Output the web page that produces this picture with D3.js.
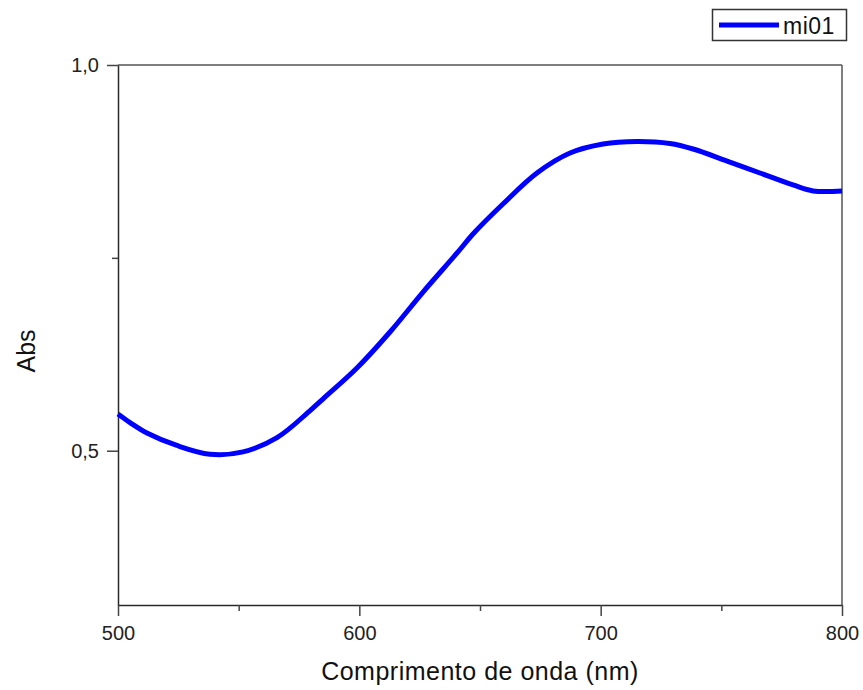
<!DOCTYPE html>
<html>
<head>
<meta charset="utf-8">
<script src="https://cdn.jsdelivr.net/npm/d3@7"></script>
<style>
  html, body { margin: 0; padding: 0; background: #fff; }
  svg { display: block; font-family: "Liberation Sans", Arial, sans-serif; }
</style>
</head>
<body>
<svg id="chart" width="863" height="690"></svg>
<script>
// ---- data ----
const wavelength = [500, 505, 512, 524.4, 538.1, 551.8, 565.9, 579.6, 584.9, 599.0, 612.7, 626.4, 640.5, 647.1, 659.5, 673.6, 687.3, 701.0, 715.1, 728.7, 738.3, 752.4, 766.0, 779.7, 788.0, 800];
const absValues  = [0.5476, 0.5365, 0.5230, 0.5068, 0.4955, 0.4985, 0.5170, 0.5520, 0.5670, 0.6072, 0.6539, 0.7057, 0.7563, 0.7809, 0.8198, 0.8600, 0.8859, 0.8976, 0.9008, 0.8982, 0.8911, 0.8755, 0.8600, 0.8445, 0.8367, 0.8367];
const seriesName = "mi01";
const xMajorTicks = [500, 600, 700, 800];
const xMinorTicks = [550, 650, 750];
const yMajorTicks = [0.5, 1.0];
const yMinorTicks = [0.75];
const yTickLabels = ["0,5", "1,0"];
const xTitle = "Comprimento de onda (nm)";
const yTitle = "Abs";

// ---- layout ----
const svg = d3.select("#chart");
const pLeft = 118, pRight = 842, pTop = 65, pBottom = 605;

const x = d3.scaleLinear().domain([500, 800]).range([pLeft, pRight]);
const y = d3.scaleLinear().domain([0.3, 1.0]).range([pBottom, pTop]);

const axisColor = "#2a2a2a";
const labelColor = "#222";
const fontFam = "'Liberation Sans', Arial, sans-serif";

// frame top & right
svg.append("line").attr("x1", pLeft).attr("x2", pRight).attr("y1", pTop).attr("y2", pTop)
  .attr("stroke", "#555").attr("stroke-width", 1.5);
svg.append("line").attr("x1", pRight).attr("x2", pRight).attr("y1", pTop).attr("y2", pBottom)
  .attr("stroke", "#555").attr("stroke-width", 1.5);

// x axis
const xAxis = d3.axisBottom(x).tickValues(xMajorTicks).tickSize(11).tickSizeOuter(0).tickPadding(10)
  .tickFormat(d3.format("d"));
const gx = svg.append("g").attr("transform", `translate(0,${pBottom})`).call(xAxis)
  .attr("font-size", 20).attr("font-family", fontFam);
gx.select(".domain").attr("stroke", axisColor).attr("stroke-width", 1.5);
gx.selectAll(".tick line").attr("stroke", "#444").attr("stroke-width", 1.5);
gx.selectAll(".tick text").attr("fill", labelColor);
const gxm = svg.append("g").attr("transform", `translate(0,${pBottom})`)
  .call(d3.axisBottom(x).tickValues(xMinorTicks).tickSize(6).tickFormat(""));
gxm.select(".domain").remove();
gxm.selectAll(".tick line").attr("stroke", "#444").attr("stroke-width", 1.5);

// y axis
const yAxis = d3.axisLeft(y).tickValues(yMajorTicks).tickSize(11).tickSizeOuter(0).tickPadding(8)
  .tickFormat((d, i) => yTickLabels[i]);
const gy = svg.append("g").attr("transform", `translate(${pLeft},0)`).call(yAxis)
  .attr("font-size", 20).attr("font-family", fontFam);
gy.select(".domain").attr("stroke", axisColor).attr("stroke-width", 1.5);
gy.selectAll(".tick line").attr("stroke", "#444").attr("stroke-width", 1.5);
gy.selectAll(".tick text").attr("fill", labelColor);
const gym = svg.append("g").attr("transform", `translate(${pLeft},0)`)
  .call(d3.axisLeft(y).tickValues(yMinorTicks).tickSize(6).tickFormat(""));
gym.select(".domain").remove();
gym.selectAll(".tick line").attr("stroke", "#444").attr("stroke-width", 1.5);

// curve
const data = wavelength.map((w, i) => ({ w, a: absValues[i] }));
const line = d3.line().x(d => x(d.w)).y(d => y(d.a)).curve(d3.curveCatmullRom.alpha(0.5));
svg.append("path").datum(data).attr("d", line)
  .attr("fill", "none").attr("stroke", "#0000ff").attr("stroke-width", 5)
  .attr("stroke-linejoin", "round");

// axis titles
svg.append("text").attr("x", (pLeft + pRight) / 2).attr("y", 680).attr("text-anchor", "middle")
  .attr("fill", "#111").style("font-size", "25px").style("letter-spacing", "0.5px").text(xTitle);
svg.append("text").attr("transform", `translate(35,351) rotate(-90)`)
  .attr("text-anchor", "middle").attr("fill", "#111").style("font-size", "25px").text(yTitle);

// legend
const lg = svg.append("g");
lg.append("rect").attr("x", 712.5).attr("y", 9.5).attr("width", 134).attr("height", 31)
  .attr("fill", "#fff").attr("stroke", "#333").attr("stroke-width", 1.5);
lg.append("line").attr("x1", 719).attr("x2", 779).attr("y1", 25).attr("y2", 25)
  .attr("stroke", "#0000ff").attr("stroke-width", 5);
lg.append("text").attr("x", 783).attr("y", 34).attr("fill", "#111").style("font-size", "23px")
  .style("letter-spacing", "0.5px").text(seriesName);
</script>
</body>
</html>
